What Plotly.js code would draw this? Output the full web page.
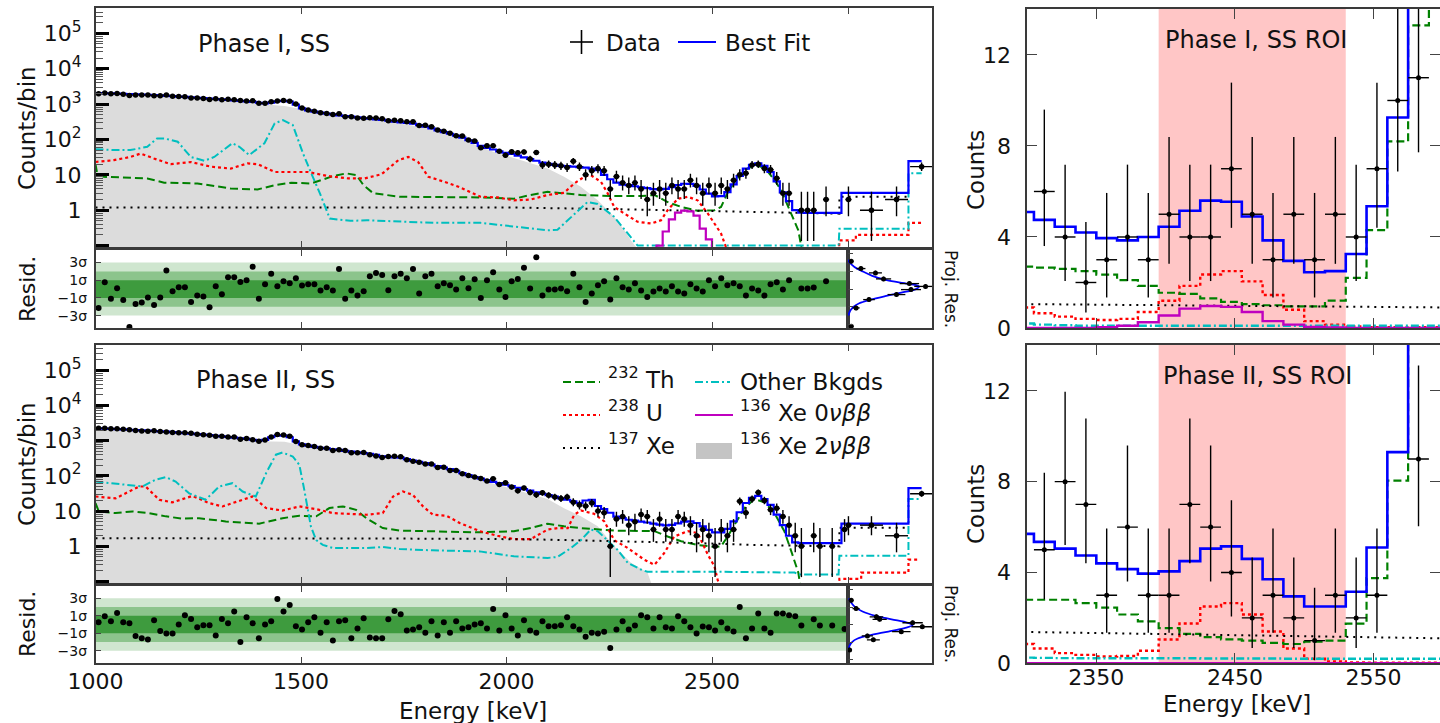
<!DOCTYPE html>
<html><head><meta charset="utf-8">
<script src="https://cdn.plot.ly/plotly-3.0.1.min.js"></script>
<style>html,body{margin:0;padding:0;background:#fff}#chart{width:1440px;height:723px}</style>
</head><body><div id="chart"></div>
<script>
// ---------------- DATA ----------------
const binStart = 1000, binWidth = 15;           // keV, main binning
const roiFirstBin = 86;                          // first bin index shown in ROI arrays
const roiLo = 2395, roiHi = 2530;                // ROI band (keV)

// Phase I best fit per 15-keV bin (1000-2830 keV)
const fit1 = [2050,2020,2000,1980,1950,1920,1890,1860,1830,1790,
1750,1710,1670,1630,1590,1550,1510,1470,1430,1390,
1350,1310,1270,1230,1190,1150,1090,1040,1100,1200,
1240,1180,960,760,660,610,570,540,510,480,
460,440,420,400,385,370,355,340,320,305,
295,280,255,230,205,180,162,145,128,112,
95,80,66,58,52,46,42,39,35,31,
28,25,22,20.5,19,18,17.5,17,16.5,16,
15,13.5,10,7.5,6.0,5.3,5.1,4.75,4.45,4.2,
3.95,3.85,4.0,4.45,5.15,5.6,5.55,4.9,3.85,2.95,
2.45,2.5,3.25,5.35,9.25,15,19,21,18,12,
6.5,3.2,1.8,1.0,0.85,0.84,0.84,0.84,0.84,0.84,
0.84,3.1];
const data1 = [1954,2055,1952,1984,1896,1732,1817,1794,1789,1714,
1710,1796,1660,1638,1598,1493,1481,1437,1352,1402,
1328,1358,1318,1258,1224,1235,1054,1058,1157,1211,
1271,1203,998,771,674,624,566,545,506,530,
437,436,405,395,413,405,385,338,346,335,
316,318,247,252,230,184,170,150,127,125,
96,90,58,66,66,46,36,45,42,44,
28,43,19,20,19,18,16,24,17,10,
13,15,13,4,9,6,5,6,4,2,
3,4,3,5,4,4,7,5,3,5,
3,5,4,7,10,11,19,20,15,14,
8,3,3,0,1,1,1,0,2,0,
0,0];
const resid1 = [-2.13,0.77,-1.08,0.09,-1.23,-4.3,-1.68,-1.53,-0.96,-1.79,
-0.96,2.09,-0.25,0.21,0.21,-1.45,-0.74,-0.85,-2.06,0.32,
-0.59,1.34,1.34,0.81,1.0,2.51,-1.08,0.55,1.72,0.32,
0.89,0.66,1.23,0.4,0.55,0.55,-0.17,0.21,-0.17,2.28,
-1.08,-0.17,-0.74,-0.25,1.45,1.83,1.6,-0.13,1.45,1.72,
1.23,2.28,-0.51,1.45,1.72,0.32,0.66,0.43,-0.06,1.23,
0.09,1.11,-1.0,1.0,1.9,-0.06,-0.89,0.89,1.15,2.4,
0.06,3.6,-0.74,-0.06,-0.06,0.06,-0.25,1.72,0.21,-1.45,
-0.51,0.43,0.89,-1.19,1.23,0.21,-0.06,0.66,-0.17,-0.89,
-0.28,0.06,-0.28,0.32,-0.28,-0.51,0.55,0.06,-0.28,1.0,
0.32,1.23,0.43,0.66,0.32,-0.74,0.06,-0.17,-0.74,0.55,
0.77,-0.06,1.0,null,0.06,0.06,0.17,null,0.89,null,
null,null];

// Phase II
const fit2 = [2240,2200,2160,2120,2080,2040,2000,1960,1920,1880,
1840,1800,1740,1690,1640,1590,1530,1480,1430,1380,
1320,1270,1220,1170,1120,1060,1010,1050,1250,1380,
1400,1250,950,780,720,665,630,600,570,545,
515,490,465,445,425,395,360,345,335,328,
300,270,250,230,210,190,172,155,138,120,
105,93,84,76,68,62,56,51,46,42,
38,34,31,28.5,26,23,21,19,17,20,
21,14,11.5,9,7,6.3,5.7,5.35,5.05,4.75,
4.4,4.15,3.95,4.05,4.5,5.05,5.15,4.6,3.7,2.95,
2.5,2.5,3.15,5.1,9.3,17,24,27,22,15,
8,4,2,1.3,1.24,1.24,1.24,1.24,1.24,1.24,
1.24,4.4];
const data2 = [2252,2244,2178,2181,2092,2047,1941,1890,1846,1901,
1808,1757,1697,1690,1683,1616,1518,1477,1427,1334,
1343,1275,1273,1102,1148,1065,960,1050,1263,1489,
1456,1329,944,764,727,686,606,606,527,554,
526,455,455,460,395,364,330,356,363,349,
288,261,245,216,216,173,175,143,142,115,
102,93,85,72,83,57,64,48,38,45,
34,29,33,28,25,23,25,18,15,14,
17,10,9,1,6,7,4,5,8,7,
3,6,3,3,7,6,4,2,3,2,
1,3,2,3,19,9,22,34,20,11,
12,7,4,2,1,0,2,1,0,1,
0,3];
const resid2 = [0.26,0.94,0.38,1.32,0.26,0.15,-1.32,-1.58,-1.7,0.49,
-0.75,-1.02,-1.02,0,1.06,0.64,-0.3,-0.08,-0.08,-1.25,
0.64,0.15,1.51,-2.0,0.83,0.15,-1.58,0,0.38,2.94,
1.51,2.23,-0.19,-0.57,0.26,0.83,-0.94,0.26,-1.81,0.38,
0.49,-1.58,-0.45,0.72,-1.47,-1.58,-1.58,0.6,1.55,1.17,
-0.68,-0.57,-0.3,-0.94,0.38,-1.25,0.26,-0.94,0.38,-0.45,
-0.3,0,0.15,-0.45,1.77,-0.68,1.06,-0.45,-1.25,0.49,
-0.68,-0.94,0.38,-0.19,-0.19,-0.08,0.83,-0.19,-0.57,-1.4,
-0.94,-1.02,-0.83,-2.68,-0.57,0.38,-0.57,-0.11,1.06,0.83,
-0.45,0.83,-0.3,-0.45,0.94,0.38,-0.3,-1.02,-0.23,-0.3,
-0.68,0.26,-0.45,-0.79,2.0,-1.58,-0.45,1.28,-0.45,-0.94,
1.28,1.28,1.06,0.94,-0.11,null,0.6,-0.11,null,-0.11,
null,-0.51];

// wide high-energy bins
const hiEdges = [2830, 2978, 3010];
const hiFit1 = [3.1, 24.5];
const hiFit2 = [4.4, 45];
const hiDataE = [2832, 2888, 2949, 3010];
const hiDataHalfW = [7.5, 28, 28, 28];
const hiData1 = [2, 1, 2, 17];
const hiData2 = [4, 4, 2, 31];

// Components, Phase I (energy keV, counts/bin)
const thE1 = [1000,1004,1020,1085,1126,1167,1248,1329,1394,1436,1477,1525,1550,1578,1610,1635,1652,1676,1741,1937,2018,2059,2100,2140,2181,2262,2327,2360,2392,2425,2465,2506,2522,2538,2555,2579,2603,2628,2652,2668,2693,2710,2725];
const thV1 = [20,11,8.8,8.4,7.9,6,5.7,4.1,3.85,5.1,6,5.7,7.1,9.2,11,9.8,5.1,3.0,2.4,2.3,2.1,2.7,3.3,3.0,2.7,2.5,2.5,2.7,1.7,1.24,0.96,1.0,1.24,3.1,6.3,13.5,18.8,16,7.1,3.7,0.8,0.27,0.03];
const uE1 = [1000,1045,1085,1110,1142,1183,1232,1281,1329,1370,1395,1436,1477,1517,1566,1615,1655,1696,1737,1761,1785,1810,1850,1883,1937,1978,2018,2059,2100,2140,2165,2189,2205,2230,2246,2262,2287,2319,2352,2376,2392,2417,2441,2465,2490,2522,2545,2808,2810,2850,2850,2978,2978,3010];
const uV1 = [23,26,32,40,29,20,23,17,15,21,20,12,12,12,9.2,7.9,7.9,10.4,26,32,23,8.8,6.3,4.6,2.4,2.3,1.9,2.0,2.7,3.1,5.7,8.8,9.8,6.3,3.0,1.24,0.8,0.47,0.42,0.52,1.0,2.1,2.4,1.9,0.8,0.22,0.04,0.04,0.14,0.14,0.2,0.2,0.44,0.44];
const xeE1 = [1000,1500,2000,2300,2500,2700,2810,2810,2978];
const xeV1 = [1.2,1.22,1.2,1.05,0.95,0.85,0.8,2.4,2.4];
const otE1 = [1000,1045,1085,1126,1150,1167,1200,1232,1265,1289,1333,1350,1374,1411,1436,1456,1480,1505,1525,1546,1570,1620,1660,1740,1822,1937,2018,2100,2124,2165,2197,2222,2262,2295,2319,2340,2808,2810,2978,2978,3010];
const otV1 = [53,50,50,62,107,107,86,32,25,32,78,62,36,78,285,350,255,40,11,3,0.58,0.5,0.52,0.47,0.44,0.44,0.34,0.27,0.28,0.8,1.7,1.5,0.65,0.22,0.1,0.1,0.1,0.3,0.3,11,11];
const tvE1 = [1000,1050,1100,1150,1200,1250,1300,1350,1400,1430,1460,1500,1550,1600,1650,1700,1750,1800,1850,1900,1937,1980,2018,2059,2100,2140,2181,2222,2262,2287,2303,2319,2340];
const tvV1 = [1950,1900,1760,1620,1560,1440,1320,1180,1000,950,880,720,555,450,385,340,270,220,150,95,60,40,30,21,15,8.8,4.6,1.9,0.65,0.27,0.14,0.08,0.03];

// Components, Phase II
const thE2 = [1000,1008,1049,1090,1130,1171,1212,1252,1317,1398,1455,1496,1537,1569,1602,1634,1659,1699,1740,1935,2018,2059,2100,2140,2181,2222,2262,2360,2392,2425,2465,2506,2522,2538,2555,2579,2603,2628,2652,2676,2693,2710,2720];
const thV2 = [17,9.8,8.8,9.8,8.8,7.1,6.1,6.3,5.1,4.4,6.3,7.4,7.1,12.2,13.6,10.9,6.3,3.3,2.8,2.5,2.7,3.3,4.4,3.7,3.3,3.0,2.8,2.7,1.9,1.4,1.1,0.96,1.0,1.9,4.1,12.2,22,17.7,8.8,2.7,0.72,0.18,0.03];
const uE2 = [1000,1049,1106,1122,1155,1187,1236,1276,1309,1366,1382,1415,1455,1496,1537,1577,1618,1659,1699,1724,1748,1772,1797,1821,1854,1886,1935,1978,2018,2059,2100,2124,2149,2165,2181,2213,2238,2262,2295,2335,2360,2384,2408,2441,2465,2490,2506,2514,2530,2808,2810,2863,2863,2978,2978,3000];
const uV2 = [26,23,50,50,21,17.7,27,17,13.6,22,26,12.2,10.4,13.6,11.4,8.8,8.2,7.9,8.8,26,36,29,13.6,7.9,7.4,4.6,2.7,2.0,1.6,1.6,3.0,3.3,3.3,7.9,10.4,8.4,5.1,1.5,0.9,0.42,0.3,0.65,1.9,2.7,2.4,0.58,0.27,0.11,0.03,0.03,0.12,0.12,0.18,0.18,0.42,0.42];
const xeE2 = [1000,1900,2100,2300,2450,2600,2810,2810,2978];
const xeV2 = [1.7,1.65,1.55,1.38,1.25,1.1,1.0,3.4,3.4];
const otE2 = [1000,1049,1114,1146,1171,1195,1228,1268,1301,1333,1358,1390,1415,1439,1455,1480,1496,1508,1524,1537,1553,1577,1659,1699,1740,1821,1935,2018,2100,2124,2157,2181,2205,2222,2246,2270,2295,2327,2343,2506,2701,2710,2808,2810,2978,2978,3010];
const otV2 = [69,60,50,78,92,69,32,21,50,62,36,26,119,400,460,355,205,40,3.7,1.5,1.1,0.9,0.9,0.96,0.84,0.77,0.72,0.52,0.47,0.5,0.9,1.5,3.0,2.7,1.5,0.8,0.34,0.22,0.19,0.19,0.18,0.16,0.16,0.54,0.54,22,22];
const tvE2 = [1000,1050,1100,1150,1200,1250,1300,1350,1400,1430,1460,1500,1550,1600,1650,1700,1750,1800,1850,1900,1937,2018,2100,2140,2181,2222,2262,2303,2343,2360];
const tvV2 = [2130,2050,1860,1780,1640,1500,1290,1110,940,950,930,740,600,490,420,330,290,225,155,100,75,42,22,12,7.1,3.7,1.0,0.34,0.18,0.05];

// ROI-binned components (bins 86..106, 2290-2605 keV)
const roiTh1 = [2.7,2.65,2.6,2.5,2.35,2.1,1.85,1.55,1.5,1.3,1.15,1.05,1.0,0.95,0.95,1.2,2.2,4.3,8.2,13.3,17];
const roiU1  = [0.9,0.65,0.5,0.4,0.35,0.4,0.7,1.2,1.85,2.35,2.5,2.05,1.45,0.8,0.3,0.15,0.07,0.04,0.03,0.03,0.03];
const roiOt1 = [0.2,0.15,0.12,0.1,0.1,0.1,0.1,0.1,0.1,0.1,0.1,0.1,0.1,0.1,0.1,0.1,0.1,0.1,0.1,0.1,0.1];
const sig0v1 = [0,0,0,0,0.03,0.1,0.25,0.55,0.85,0.97,0.93,0.7,0.3,0.15,0.05,0.02,0,0,0,0,0];
const roiTh2 = [2.8,2.8,2.8,2.65,2.45,2.15,1.85,1.55,1.3,1.15,1.05,1.0,0.9,0.85,0.95,1.0,1.75,3.75,8.05,15,22];
const roiU2  = [0.85,0.65,0.45,0.37,0.3,0.32,0.55,1.05,1.75,2.5,2.65,2.15,1.4,0.65,0.2,0.08,0.04,0.03,0.03,0.03,0.03];
const roiOt2 = [0.25,0.24,0.23,0.22,0.22,0.22,0.22,0.22,0.22,0.21,0.21,0.21,0.21,0.2,0.2,0.2,0.2,0.2,0.2,0.2,0.2];
const sig0v2 = [0,0,0,0,0,0,0,0,0,0,0,0,0,0,0,0,0,0,0,0,0];

// Projected residual histograms
const proj1R = [3.15,2.32,1.83,1.15,0.62,0.3,-0.06,-0.62,-1.19,-2.13,-4.2];
const proj1C = [2,8,17,22,38,48,39,30,13,5,2];
const proj1CE = [1.4,2.8,4,4.7,6,7,6.2,5.5,3.6,2.2,1.4];
const proj1FitR = [3.3,3.0,2.5,2.0,1.5,1.0,0.6,0.3,0.0,-0.4,-0.8,-1.2,-1.6,-2.0,-2.5,-3.0];
const proj1FitC = [0,1,4,9,15,24,37,44,42,33,23,14,7,3.5,1.2,0.3];
const proj2R = [2.77,1.83,0.89,0.6,0.21,-0.25,-0.81,-1.3,-1.75,-2.9];
const proj2C = [2,5,17.6,19.6,40,46,33,12,15.7,1];
const proj2CE = [1.4,2.2,4.2,4.4,6.3,6.8,5.7,3.5,4,1];
const proj2FitR = [3.0,2.5,2.0,1.5,1.0,0.6,0.2,-0.05,-0.4,-0.8,-1.2,-1.6,-2.0,-2.5,-3.0];
const proj2FitC = [0.5,2,4.5,9,17,27,37,40,35,25,14,6,2.5,0.8,0.2];

// ---------------- HELPERS ----------------
const W = 1440, H = 723;
const hd = (a,b)=>[a/W, b/W];
const vd = (top,bot)=>[1-bot/H, 1-top/H];
const px = x=>x/W, py = y=>1-y/H;
const FONT = 'DejaVu Sans, Liberation Sans, sans-serif';
const C = {blue:'#0000ff', green:'#008000', red:'#ff0000', cyan:'#00bfbf', mag:'#bf00bf', grey:'#dcdcdc'};
const DASH = {th:'8px,4px', u:'3px,3px', xe:'2px,5px', ot:'8px,3px,2px,3px'};

function edgesFrom(first, n){ const e=[]; for(let k=0;k<=n;k++) e.push(binStart+binWidth*(first+k)); return e; }
function stepTrace(first, vals, xa, ya, color, dash, width, logFloor, extraEdges, extraVals){
  const n = vals.length; const e = edgesFrom(first, n);
  let xs = e.slice(0,n), ys = vals.map(v=> (logFloor && !(v>0)) ? logFloor : v);
  if(extraEdges){ xs = xs.concat(extraEdges.slice(0,extraVals.length)); ys = ys.concat(extraVals); xs.push(extraEdges[extraEdges.length-1]); ys.push(extraVals[extraVals.length-1]); }
  else { xs.push(e[n]); ys.push(ys[ys.length-1]); }
  return {type:'scatter', mode:'lines', x:xs, y:ys, xaxis:xa, yaxis:ya, line:{color, width, dash:dash||'solid', shape:'hv'}, hoverinfo:'skip'};
}
function lineTrace(xs, ys, xa, ya, color, dash, width){
  return {type:'scatter', mode:'lines', x:xs, y:ys, xaxis:xa, yaxis:ya, line:{color, width, dash}, hoverinfo:'skip'};
}
function poisHi(n){ return 1 + Math.sqrt(n + 0.75); }
function poisLo(n){ return Math.sqrt(n - 0.25); }
function dataTrace(centers, counts, halfW, xa, ya, msize){
  const x=[],y=[],ep=[],em=[],ex=[];
  counts.forEach((n,i)=>{ if(n>0){ x.push(centers[i]); y.push(n); ep.push(poisHi(n)); em.push(poisLo(n)); ex.push(Array.isArray(halfW)?halfW[i]:halfW);} });
  return {type:'scatter', mode:'markers', x, y, xaxis:xa, yaxis:ya, marker:{color:'#000', size:msize||5},
    error_y:{type:'data', symmetric:false, array:ep, arrayminus:em, color:'#000', thickness:1.4, width:0},
    error_x:{type:'data', array:ex, color:'#000', thickness:1.4, width:0}, hoverinfo:'skip'};
}
const centers = fit1.map((_,k)=>binStart+binWidth*(k+0.5));

function mainTraces(xa, ya, tvE, tvV, thE, thV, uE, uV, xeE, xeV, otE, otV, sig0v, fit, hiFit, data, hiData){
  const t = [];
  t.push({type:'scatter', mode:'lines', x:tvE, y:tvV, xaxis:xa, yaxis:ya, fill:'tozeroy', fillcolor:C.grey, line:{width:0, color:C.grey}, hoverinfo:'skip'});
  t.push(lineTrace(thE, thV, xa, ya, C.green, DASH.th, 2));
  t.push(lineTrace(uE, uV, xa, ya, C.red, DASH.u, 2.2));
  t.push(lineTrace(xeE, xeV, xa, ya, '#000', DASH.xe, 2));
  t.push(lineTrace(otE, otV, xa, ya, C.cyan, DASH.ot, 2));
  if(sig0v.some(v=>v>0)) t.push(stepTrace(roiFirstBin, sig0v, xa, ya, C.mag, 'solid', 2.2, 1e-3));
  t.push(stepTrace(0, fit, xa, ya, C.blue, 'solid', 2.2, null, hiEdges, hiFit));
  t.push(dataTrace(centers, data, 7.5, xa, ya, 5.5));
  t.push(dataTrace(hiDataE, hiData, hiDataHalfW, xa, ya, 5.5));
  return t;
}
function residTraces(xa, ya, resid){
  const x=[],y=[]; resid.forEach((r,i)=>{ if(r!==null){ x.push(centers[i]); y.push(r);} });
  return [{type:'scatter', mode:'markers', x, y, xaxis:xa, yaxis:ya, marker:{color:'#000', size:6}, hoverinfo:'skip'}];
}
function projTraces(xa, ya, R, Cn, CE, fR, fC){
  return [
    {type:'scatter', mode:'lines', x:fC, y:fR, xaxis:xa, yaxis:ya, line:{color:C.blue, width:1.8, shape:'spline'}, hoverinfo:'skip'},
    {type:'scatter', mode:'markers', x:Cn, y:R, xaxis:xa, yaxis:ya, marker:{color:'#000', size:5},
      error_x:{type:'data', array:CE, color:'#000', thickness:1.3, width:0},
      error_y:{type:'data', array:R.map(()=>0.25), color:'#000', thickness:1.3, width:0}, hoverinfo:'skip'}
  ];
}
function roiTraces(xa, ya, th, u, ot, s0, xeE, xeV, fit, data){
  const n = th.length;
  const t = [];
  t.push(stepTrace(roiFirstBin, u, xa, ya, C.red, DASH.u, 2.4));
  t.push(stepTrace(roiFirstBin, th, xa, ya, C.green, DASH.th, 2.2));
  t.push(lineTrace(xeE, xeV, xa, ya, '#000', DASH.xe, 2));
  t.push(stepTrace(roiFirstBin, ot, xa, ya, C.cyan, DASH.ot, 2.4));
  t.push(stepTrace(roiFirstBin, s0, xa, ya, C.mag, 'solid', 2.4));
  t.push(stepTrace(roiFirstBin, fit.slice(roiFirstBin, roiFirstBin+n), xa, ya, C.blue, 'solid', 2.6));
  const idx = []; for(let k=roiFirstBin+1;k<roiFirstBin+n;k++) idx.push(k);
  t.push(dataTrace(idx.map(k=>centers[k]), idx.map(k=>data[k]), 7.5, xa, ya, 5));
  return t;
}

// ---------------- GEOMETRY ----------------
const L = 95.5, RM = 932, RR = 848;
const mainRange = [binStart, binStart + (RM-L)/0.411];
const resRange  = [binStart, binStart + (RR-L)/0.411];
const logRange = [-1.04, 5.715];
const resYRange = [-4.4, 4.45];

const traces = [].concat(
  mainTraces('x','y', tvE1,tvV1, thE1,thV1, uE1,uV1, xeE1,xeV1, otE1,otV1, sig0v1, fit1, hiFit1, data1, hiData1),
  residTraces('x2','y2', resid1),
  projTraces('x3','y3', proj1R, proj1C, proj1CE, proj1FitR, proj1FitC),
  mainTraces('x4','y4', tvE2,tvV2, thE2,thV2, uE2,uV2, xeE2,xeV2, otE2,otV2, sig0v2, fit2, hiFit2, data2, hiData2),
  residTraces('x5','y5', resid2),
  projTraces('x6','y6', proj2R, proj2C, proj2CE, proj2FitR, proj2FitC),
  roiTraces('x7','y7', roiTh1, roiU1, roiOt1, sig0v1, xeE1, xeV1, fit1, data1),
  roiTraces('x8','y8', roiTh2, roiU2, roiOt2, sig0v2, xeE2, xeV2, fit2, data2)
);

const frame = {showline:true, linecolor:'#3a3a3a', linewidth:1.6, mirror:true, showgrid:false, zeroline:false, ticks:'inside', tickcolor:'#444', fixedrange:true};
const minorVals = []; for(let e=-2;e<=5;e++) for(let m=2;m<=9;m++) minorVals.push(m*Math.pow(10,e));
const logY = (dom)=>Object.assign({}, frame, {type:'log', domain:dom, range:logRange, tickmode:'array',
  tickvals:[0.1,1,10,100,1e3,1e4,1e5], ticktext:['','1','10','10<sup>2</sup>','10<sup>3</sup>','10<sup>4</sup>','10<sup>5</sup>'],
  ticklen:13, tickwidth:3, tickcolor:'#000', ticklabelstandoff:8, tickfont:{size:22},
  minor:{tickmode:'array', tickvals:minorVals, ticks:'inside', ticklen:7, tickwidth:1, tickcolor:'#555'}});
const mainX = (anchor)=>Object.assign({}, frame, {domain:hd(L,RM), range:mainRange, anchor, tickmode:'array', tickvals:[1500,2000,2500,resRange[1]], showticklabels:false, ticklen:6, mirror:'ticks'});
const resX = (anchor, labels)=>Object.assign({}, frame, {domain:hd(L,RR), range:resRange, anchor, tickmode:'array', tickvals:[1000,1500,2000,2500], showticklabels:labels, ticklen:6, mirror:'ticks', tickfont:{size:22}, ticklabelstandoff:-2});
const resY = (dom, anchor)=>Object.assign({}, frame, {domain:dom, range:resYRange, anchor, tickmode:'array', tickvals:[3,1,-1,-3], ticktext:['3σ','1σ','−1σ','−3σ'], ticklen:5, tickfont:{size:14}, ticklabelstandoff:4});
const projX = (anchor)=>Object.assign({}, frame, {domain:hd(RR,RM), range:[0,52], anchor, ticks:'', showticklabels:false});
const projY = (dom, anchor)=>Object.assign({}, frame, {domain:dom, range:resYRange, anchor, tickmode:'array', tickvals:[-4,-2,0,2,4], showticklabels:false, ticklen:5, mirror:true});
const roiX = (dom, anchor, labels)=>Object.assign({}, frame, {domain:dom, range:[2300,2598], anchor, tickmode:'array', tickvals:[2350,2450,2550], showticklabels:labels, ticklen:10, mirror:'ticks', tickfont:{size:22}, ticklabelstandoff:-6});
const roiY = (dom, anchor)=>Object.assign({}, frame, {domain:dom, range:[0,14.02], anchor, tickmode:'array', tickvals:[0,4,8,12], ticklen:10, mirror:'ticks', tickfont:{size:22}, ticklabelstandoff:10});

const dMain1 = vd(8,247), dRes1 = vd(249.7,328), dMain2 = vd(345,583), dRes2 = vd(585.7,663);
const dRoiX = hd(1027,1440), dRoi1 = vd(9,328), dRoi2 = vd(345,663.3);

const bands = [];
[['x2','y2'],['x5','y5']].forEach(([xa,ya])=>{
  [[3,'#cfe6cf'],[2,'#8cc48c'],[1,'#3e9b3e']].forEach(([s,c])=>{
    bands.push({type:'rect', xref:xa+' domain', yref:ya, x0:0, x1:1, y0:-s, y1:s, fillcolor:c, line:{width:0}, layer:'below'});
  });
});
['7','8'].forEach(i=>bands.push({type:'rect', xref:'x'+i, yref:'y'+i+' domain', x0:roiLo, x1:roiHi, y0:0, y1:1, fillcolor:'#ffc6c6', line:{width:0}, layer:'below'}));

// legend samples (paper coordinates)
const leg = [];
const lseg = (x0,x1,y,color,dash,w)=>leg.push({type:'line', xref:'paper', yref:'paper', x0:px(x0), x1:px(x1), y0:py(y), y1:py(y), line:{color, dash, width:w}});
leg.push({type:'line', xref:'paper', yref:'paper', x0:px(570), x1:px(593), y0:py(42), y1:py(42), line:{color:'#000', width:1.6}});
leg.push({type:'line', xref:'paper', yref:'paper', x0:px(581.5), x1:px(581.5), y0:py(30), y1:py(54), line:{color:'#000', width:1.6}});
lseg(678,716,42,C.blue,'solid',2.2);
lseg(563,600,382,C.green,DASH.th,2);
lseg(563,600,415,C.red,DASH.u,2.2);
lseg(563,600,448,'#000',DASH.xe,2);
lseg(695,730,382,C.cyan,DASH.ot,2);
lseg(695,733,415,C.mag,'solid',2.2);
leg.push({type:'rect', xref:'paper', yref:'paper', x0:px(696), x1:px(732), y0:py(459), y1:py(443), fillcolor:'#c4c4c4', line:{width:0}});

const F = (s)=>({size:s, color:'#111', family:FONT});
const A = (x,y,text,opt)=>Object.assign({xref:'paper', yref:'paper', x:px(x), y:py(y), xanchor:'center', yanchor:'middle', text, showarrow:false, font:F(23)}, opt||{});
const sup = s=>'<sup>'+s+'</sup> ';
const annotations = [
  A(264,44,'Phase I, SS',{font:F(24)}),
  A(265,380,'Phase II, SS',{font:F(24)}),
  A(1256,40,'Phase I, SS ROI',{font:F(24)}),
  A(1257,376,'Phase II, SS ROI',{font:F(24)}),
  A(604,43,'Data',{xanchor:'left'}),
  A(723,43,'Best Fit',{xanchor:'left'}),
  A(606,378,sup('232')+'Th',{xanchor:'left'}),
  A(606,411,sup('238')+'U',{xanchor:'left'}),
  A(606,444,sup('137')+'Xe',{xanchor:'left'}),
  A(738,382,'Other Bkgds',{xanchor:'left'}),
  A(738,411,sup('136')+'Xe 0<i>νββ</i>',{xanchor:'left'}),
  A(738,444,sup('136')+'Xe 2<i>νββ</i>',{xanchor:'left'}),
  A(27,128,'Counts/bin',{textangle:-90}),
  A(27,464,'Counts/bin',{textangle:-90}),
  A(27,289,'Resid.',{textangle:-90, font:F(22)}),
  A(27,624,'Resid.',{textangle:-90, font:F(22)}),
  A(951,289,'Proj. Res.',{textangle:90, font:F(17)}),
  A(951,624,'Proj. Res.',{textangle:90, font:F(17)}),
  A(976,170,'Counts',{textangle:-90}),
  A(976,504,'Counts',{textangle:-90}),
  A(473,711,'Energy [keV]'),
  A(1237,704,'Energy [keV]')
];

const layout = {
  width:W, height:H, margin:{l:0,r:0,t:0,b:0}, paper_bgcolor:'#fff', plot_bgcolor:'#fff',
  showlegend:false, font:{family:FONT, size:22, color:'#111'},
  xaxis: mainX('y'), yaxis: logY(dMain1),
  xaxis2: resX('y2', false), yaxis2: resY(dRes1,'x2'),
  xaxis3: projX('y3'), yaxis3: projY(dRes1,'x3'),
  xaxis4: mainX('y4'), yaxis4: logY(dMain2),
  xaxis5: resX('y5', true), yaxis5: resY(dRes2,'x5'),
  xaxis6: projX('y6'), yaxis6: projY(dRes2,'x6'),
  xaxis7: roiX(dRoiX,'y7', false), yaxis7: roiY(dRoi1,'x7'),
  xaxis8: roiX(dRoiX,'y8', true), yaxis8: roiY(dRoi2,'x8'),
  shapes: bands.concat(leg), annotations
};
layout.xaxis.domain = hd(L,RM); layout.yaxis.anchor='x';
layout.xaxis4.domain = hd(L,RM); layout.yaxis4.anchor='x4';
Plotly.newPlot('chart', traces, layout, {staticPlot:true, displayModeBar:false});
</script></body></html>
